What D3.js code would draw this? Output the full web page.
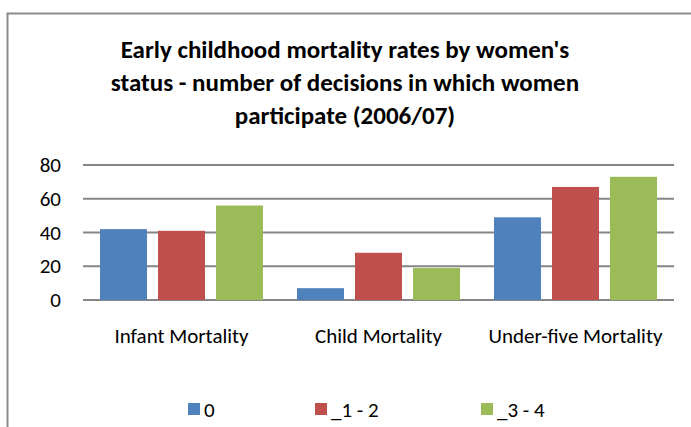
<!DOCTYPE html>
<html>
<head>
<meta charset="utf-8">
<script src="https://d3js.org/d3.v7.min.js"></script>
<style>
  body { margin: 0; background: #fff; }
  text { font-family: Carlito, Calibri, "Liberation Sans", sans-serif; fill: #000; }
</style>
</head>
<body>
<svg id="chart" width="691" height="427"></svg>
<script>
// chart data
var categories = ["Infant Mortality", "Child Mortality", "Under-five Mortality"];
var seriesNames = ["0", "_1 - 2", "_3 - 4"];
var series0 = [42, 7, 49];
var series12 = [41, 28, 67];
var series34 = [56, 19, 73];
var yTicks = [0, 20, 40, 60, 80];
var titleLines = ["Early childhood mortality rates by women's",
                  "status - number of decisions in which women",
                  "participate (2006/07)"];
var colors = ["#4F81BD", "#C0504D", "#9BBB59"];

var allSeries = [series0, series12, series34];

var svg = d3.select("#chart");

// outer border of the chart area
svg.append("rect")
  .attr("x", 7.5).attr("y", 13.5)
  .attr("width", 700).attr("height", 430)
  .attr("fill", "none").attr("stroke", "#8c8c8c").attr("stroke-width", 2);

// title
svg.append("g").selectAll("text").data(titleLines).enter().append("text")
  .attr("x", 345)
  .attr("y", function(d, i) { return 58 + i * 33; })
  .attr("text-anchor", "middle")
  .attr("font-size", "25px")
  .attr("font-weight", "bold")
  .text(function(d) { return d; });

// scales
var x0 = d3.scaleBand().domain(categories).range([83, 674]).padding(0);
var x1 = d3.scaleBand().domain(seriesNames).range([0, x0.bandwidth()])
  .paddingInner(0.19).paddingOuter(0.293);
var y = d3.scaleLinear().domain([0, 80]).range([300, 165]);

// gridlines
svg.append("g").selectAll("line").data(yTicks).enter().append("line")
  .attr("x1", 83).attr("x2", 674)
  .attr("y1", function(d) { return y(d); })
  .attr("y2", function(d) { return y(d); })
  .attr("stroke", "#868686").attr("stroke-width", 2);

// y labels
svg.append("g").selectAll("text").data(yTicks).enter().append("text")
  .attr("x", 61)
  .attr("y", function(d) { return y(d) + 7; })
  .attr("text-anchor", "end")
  .attr("font-size", "21px")
  .text(function(d) { return d; });

// bars
categories.forEach(function(cat, ci) {
  allSeries.forEach(function(s, si) {
    svg.append("rect")
      .attr("x", x0(cat) + x1(seriesNames[si]))
      .attr("y", y(s[ci]))
      .attr("width", x1.bandwidth())
      .attr("height", y(0) - y(s[ci]))
      .attr("fill", colors[si]);
  });
});

// category labels
svg.append("g").selectAll("text").data(categories).enter().append("text")
  .attr("x", function(d) { return x0(d) + x0.bandwidth() / 2; })
  .attr("y", 343)
  .attr("text-anchor", "middle")
  .attr("font-size", "21px")
  .text(function(d) { return d; });

// legend
var legendX = [188, 315, 481];
var legend = svg.append("g").selectAll("g").data(seriesNames).enter().append("g")
  .attr("transform", function(d, i) { return "translate(" + legendX[i] + ",403)"; });
legend.append("rect").attr("width", 12).attr("height", 12)
  .attr("fill", function(d, i) { return colors[i]; });
legend.append("text").attr("x", 16).attr("y", 14)
  .attr("font-size", "21px")
  .text(function(d) { return d; });
</script>
</body>
</html>
